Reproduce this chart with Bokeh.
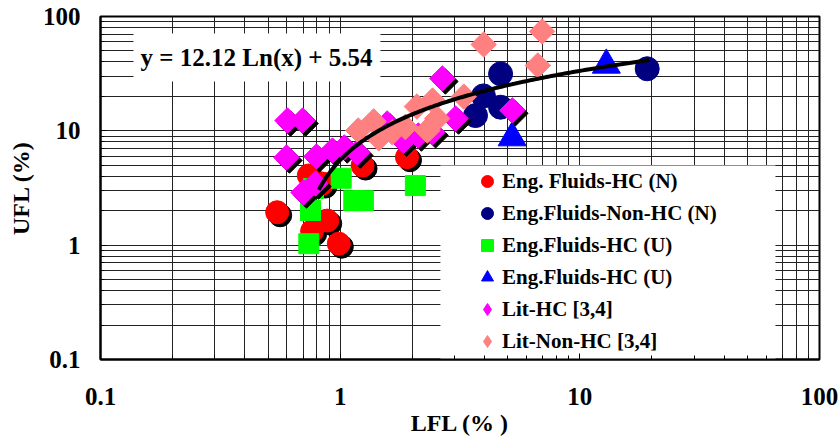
import numpy as np
from bokeh.plotting import figure
from bokeh.models import FixedTicker, BoxAnnotation, Label, Legend, LegendItem
from bokeh.embed import file_html
from bokeh.resources import INLINE

# ---------------- data (LFL %, UFL %) ----------------
eng_hc_n_lfl = [0.546, 0.74, 0.844, 0.764, 0.883, 0.987, 1.24, 1.90]
eng_hc_n_ufl = [1.94, 4.07, 3.46, 1.33, 1.64, 1.03, 4.97, 5.88]

eng_nonhc_n_lfl = [19.1, 4.67, 3.96, 3.67, 4.67]
eng_nonhc_n_ufl = [34.9, 31.5, 20.2, 13.6, 16.1]

eng_hc_u_sq_lfl = [0.752, 0.74, 1.01, 1.14, 1.25, 2.06, 0.774]
eng_hc_u_sq_ufl = [2.01, 1.03, 3.85, 2.45, 2.45, 3.32, 3.13]

eng_hc_u_tri_lfl = [12.9, 5.22]
eng_hc_u_tri_ufl = [37.6, 8.7]

lit_hc_lfl = [0.603, 0.697, 0.597, 0.796, 0.929, 1.04, 1.18, 0.703, 0.789,
              1.57, 1.84, 2.12, 2.43, 2.67, 3.03, 5.23]
lit_hc_ufl = [12.3, 12.3, 5.84, 5.96, 6.72, 7.15, 6.46, 2.89, 3.46,
              11.6, 8.2, 9.1, 9.7, 28.7, 12.8, 15.1]

lit_nonhc_lfl = [1.19, 1.38, 1.45, 1.65, 1.87, 2.09, 2.43, 2.54, 2.31,
                 3.28, 3.97, 6.96, 6.68]
lit_nonhc_ufl = [10.06, 12.1, 8.6, 9.7, 10.8, 16.3, 18.4, 12.8, 10.06,
                 19.9, 56.9, 74.0, 37.3]

# trend line y = a*ln(x) + b over the fitted range
fit_a = 12.12
fit_b = 5.54
fit_xmin = 0.814
fit_xmax = 19.5

major_ticks = [0.1, 1, 10, 100]
tick_labels = ["0.1", "1", "10", "100"]
minor_ticks = [m * 10.0 ** e for e in (-1, 0, 1) for m in range(2, 10)]

legend_labels = ["Eng. Fluids-HC (N)", "Eng.Fluids-Non-HC (N)", "Eng.Fluids-HC (U)",
                 "Eng.Fluids-HC (U)", "Lit-HC [3,4]", "Lit-Non-HC [3,4]"]

FONT = "Liberation Serif"

p = figure(x_axis_type="log", y_axis_type="log",
           x_range=(0.1, 100), y_range=(0.1, 100),
           frame_width=719, frame_height=343,
           min_border_left=100, min_border_right=20, min_border_top=16, min_border_bottom=82,
           output_backend="svg", toolbar_location=None)

p.background_fill_color = "white"
p.border_fill_color = "white"
p.outline_line_color = "black"
p.outline_line_width = 2

xt = FixedTicker(ticks=major_ticks, minor_ticks=minor_ticks)
yt = FixedTicker(ticks=major_ticks, minor_ticks=minor_ticks)
p.xaxis.ticker = xt
p.yaxis.ticker = yt
p.xgrid.ticker = xt
p.ygrid.ticker = yt
for g in (p.xgrid, p.ygrid):
    g.grid_line_color = "#222222"
    g.grid_line_width = 1
    g.minor_grid_line_color = "#222222"
    g.minor_grid_line_width = 1

p.xaxis.major_label_overrides = {t: s for t, s in zip(major_ticks, tick_labels)}
p.yaxis.major_label_overrides = {t: s for t, s in zip(major_ticks, tick_labels)}

for ax in (p.xaxis, p.yaxis):
    ax.axis_line_color = "black"
    ax.axis_line_width = 2
    ax.major_tick_in = 6
    ax.major_tick_out = 0
    ax.minor_tick_in = 4
    ax.minor_tick_out = 0
    ax.major_tick_line_color = "black"
    ax.minor_tick_line_color = "black"
    ax.major_label_text_font = FONT
    ax.major_label_text_font_style = "bold"
    ax.major_label_text_font_size = "25px"
    ax.major_label_text_color = "black"
    ax.axis_label_text_font = FONT
    ax.axis_label_text_font_style = "bold"
    ax.axis_label_text_font_size = "24px"
    ax.axis_label_text_color = "black"

p.xaxis.axis_label = "LFL (% )"
p.yaxis.axis_label = "UFL (%)"
p.xaxis.major_label_standoff = 28
p.yaxis.major_label_standoff = 20
p.xaxis.axis_label_standoff = 2
p.yaxis.axis_label_standoff = 6

# white boxes hiding the grid behind the equation and the legend
eq_box = BoxAnnotation(left=0.1373, right=1.472, bottom=27.0, top=71.0,
                       fill_color="white", fill_alpha=1, line_color=None, level="underlay")
leg_box = BoxAnnotation(left=2.62, right=65.5, top=4.97,
                        fill_color="white", fill_alpha=1, line_color=None, level="underlay")
p.add_layout(eq_box)
p.add_layout(leg_box)

# drop-shadow offsets (about 3 px right and 3 px down on screen)
sdx = 10 ** (3 / 239.7)
sdy = 10 ** (-3 / 114.3)

def shadow(xs, ys, **kw):
    p.scatter(np.array(xs) * sdx, np.array(ys) * sdy, fill_color="black",
              line_color="black", **kw)

shadow(eng_hc_n_lfl, eng_hc_n_ufl, marker="circle", size=23)
r_red = p.scatter(eng_hc_n_lfl, eng_hc_n_ufl, marker="circle", size=23,
                  fill_color="#FF0000", line_color="#FF0000")
r_navy = p.scatter(eng_nonhc_n_lfl, eng_nonhc_n_ufl, marker="circle", size=24,
                   fill_color="#000080", line_color="#000080")
r_green = p.scatter(eng_hc_u_sq_lfl, eng_hc_u_sq_ufl, marker="square", size=20,
                    fill_color="#00FF00", line_color="#00FF00")
r_blue = p.scatter(eng_hc_u_tri_lfl, eng_hc_u_tri_ufl, marker="triangle", size=28,
                   fill_color="#0000FF", line_color="#0000FF")
shadow(lit_hc_lfl, lit_hc_ufl, marker="square", size=18, angle=np.pi / 4)
# small diamonds hidden underneath the big ones; they supply the legend glyph
leg_mag = p.scatter(lit_hc_lfl, lit_hc_ufl, marker="diamond", size=12,
                    fill_color="#FF00FF", line_color="#FF00FF")
r_mag = p.scatter(lit_hc_lfl, lit_hc_ufl, marker="square", size=18, angle=np.pi / 4,
                  fill_color="#FF00FF", line_color="#FF00FF")
leg_sal = p.scatter(lit_nonhc_lfl, lit_nonhc_ufl, marker="diamond", size=12,
                    fill_color="#FF8080", line_color="#FF8080")
r_sal = p.scatter(lit_nonhc_lfl, lit_nonhc_ufl, marker="square", size=18, angle=np.pi / 4,
                  fill_color="#FF8080", line_color="#FF8080")

fx = np.logspace(np.log10(fit_xmin), np.log10(fit_xmax), 200)
fy = fit_a * np.log(fx) + fit_b
p.line(fx, fy, line_color="black", line_width=4)

eq = Label(x=0.448, y=43.8, text="y = 12.12 Ln(x) + 5.54",
           text_align="center", text_baseline="middle",
           text_font=FONT, text_font_style="bold", text_font_size="25px",
           text_color="black")
p.add_layout(eq)

items = [LegendItem(label=lab, renderers=[r])
         for lab, r in zip(legend_labels, [r_red, r_navy, r_green, r_blue, leg_mag, leg_sal])]
legend = Legend(items=items, location=(372, 3), orientation="vertical",
                glyph_width=30, glyph_height=30, label_height=30, spacing=2,
                padding=0, margin=0, label_standoff=0,
                label_text_font=FONT, label_text_font_style="bold",
                label_text_font_size="21px", label_text_color="black",
                background_fill_alpha=0, border_line_color=None)
p.add_layout(legend)

open("out.html", "w").write(file_html(p, INLINE))
